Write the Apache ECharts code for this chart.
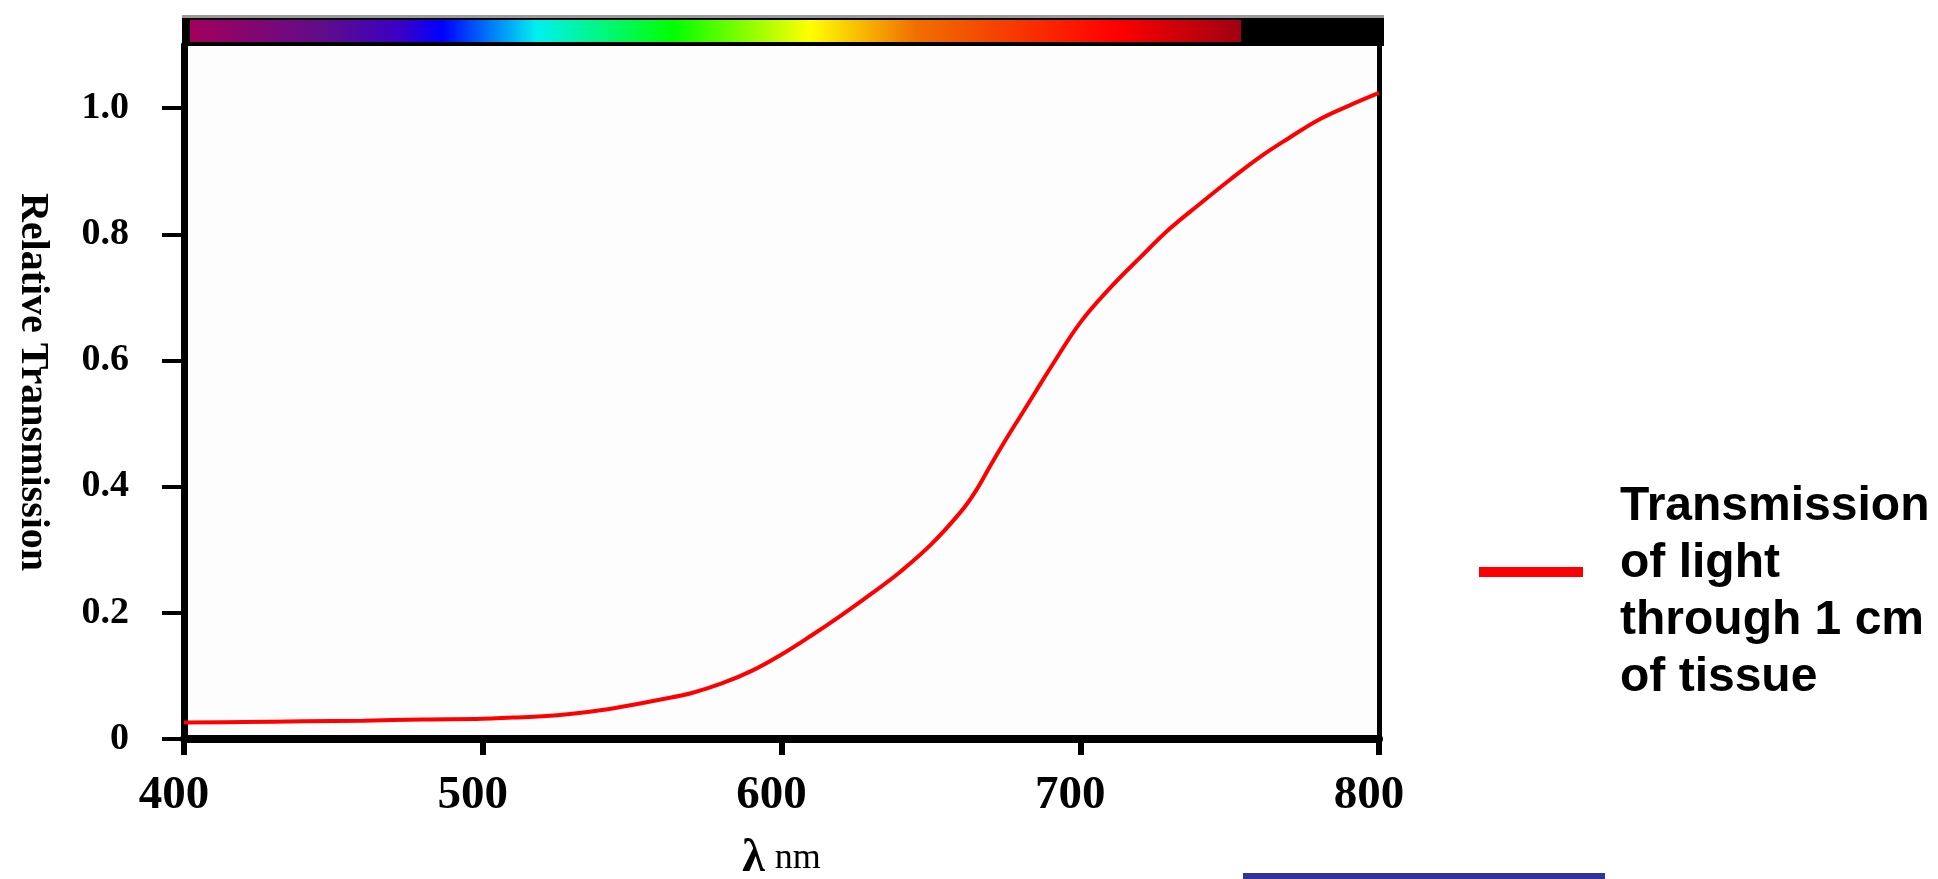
<!DOCTYPE html>
<html>
<head>
<meta charset="utf-8">
<script src="https://cdn.jsdelivr.net/npm/echarts@6/dist/echarts.min.js"></script>
<style>
  html, body { margin: 0; padding: 0; background: #fff; }
  #chart { width: 1938px; height: 879px; }
</style>
</head>
<body>
<div id="chart"></div>
<script>
// wavelength (nm) and relative transmission
const wavelengths = [400, 420, 440, 460, 480, 500, 510, 520, 530, 540, 550, 560, 570, 580, 590,
  600, 610, 620, 630, 640, 650, 660, 665, 670, 675, 680, 685, 690, 700, 710, 720, 730, 740, 750, 760, 770, 780, 790, 800];
const transmission = [0.026, 0.027, 0.028, 0.029, 0.031, 0.032, 0.034, 0.036, 0.040, 0.046, 0.054, 0.063, 0.073, 0.088, 0.108,
  0.134, 0.164, 0.196, 0.230, 0.266, 0.308, 0.360, 0.393, 0.434, 0.474, 0.512, 0.550, 0.588, 0.660, 0.715, 0.763, 0.809, 0.848, 0.886, 0.922, 0.953, 0.982, 1.004, 1.024];
const xTicks = [400, 500, 600, 700, 800];
const yTicks = [0, 0.2, 0.4, 0.6, 0.8, 1.0];
const seriesName = 'Transmission\nof light\nthrough 1 cm\nof tissue';

// spectrum strip colours (left to right)
const spectrumStops = [
  [0, '#a3005c'], [0.13, '#5e0c8c'], [0.2, '#3a00c4'], [0.24, '#0000ff'],
  [0.33, '#00f0f0'], [0.46, '#00ff00'], [0.59, '#ffff00'], [0.69, '#f07000'],
  [0.88, '#ff0000'], [1, '#a00012']
];

const chart = echarts.init(document.getElementById('chart'));
const serif = '"Liberation Serif", "Times New Roman", serif';
const sans = '"Liberation Sans", Arial, sans-serif';

const option = {
  animation: false,
  backgroundColor: '#fff',
  grid: {
    left: 184, right: 559, top: 45, bottom: 140,
    outerBoundsMode: 'none',
    show: true, backgroundColor: '#fdfdfd', borderColor: '#000', borderWidth: 2
  },
  legend: {
    left: 1479, top: 457, orient: 'vertical', padding: 0,
    icon: 'rect', itemWidth: 104, itemHeight: 10,
    formatter: name => '{s| }\n' + name.split('\n').map(l => '{t|' + l + '}').join('\n'),
    textStyle: {
      padding: [0, 0, 0, 32],
      rich: {
        t: { fontFamily: sans, fontWeight: 'bold', fontSize: 48, lineHeight: 57, color: '#000' },
        s: { fontSize: 2, lineHeight: 41 }
      }
    },
    data: [seriesName]
  },
  xAxis: {
    type: 'value', min: 400, max: 800, interval: 100,
    name: '{l|λ}{n|nm}', nameLocation: 'middle', nameGap: 97,
    nameTextStyle: {
      rich: {
        l: { fontFamily: serif, fontWeight: 'bold', fontSize: 46, color: '#000' },
        n: { fontFamily: serif, fontSize: 36, color: '#000', padding: [0, 0, 0, 10] }
      }
    },
    splitLine: { show: false },
    axisLine: { lineStyle: { color: '#000', width: 8 } },
    axisTick: { length: 16, lineStyle: { color: '#000', width: 6 }, customValues: xTicks },
    axisLabel: {
      customValues: xTicks, margin: 33, padding: [0, 20, 0, 0],
      fontFamily: serif, fontWeight: 'bold', fontSize: 47, color: '#000'
    }
  },
  yAxis: [{
    type: 'value', min: 0, max: 1.1, interval: 0.2,
    name: 'Relative Transmission', nameLocation: 'middle', nameRotate: -90, nameGap: 132,
    nameTextStyle: { fontFamily: serif, fontWeight: 'bold', fontSize: 40, color: '#000', padding: [0, 20, 0, 0] },
    splitLine: { show: false },
    axisLine: { lineStyle: { color: '#000', width: 7 } },
    axisTick: { length: 22, lineStyle: { color: '#000', width: 4 }, customValues: yTicks },
    axisLabel: {
      customValues: yTicks, margin: 55,
      fontFamily: serif, fontWeight: 'bold', fontSize: 38, color: '#000',
      formatter: v => (v === 0 ? '0' : v.toFixed(1))
    }
  }, {
    type: 'value', min: 0, max: 1.1, position: 'right',
    axisLine: { show: true, lineStyle: { color: '#000', width: 5 } },
    axisTick: { show: false }, axisLabel: { show: false }, splitLine: { show: false }
  }],
  series: [{
    name: seriesName,
    type: 'line',
    data: wavelengths.map((w, i) => [w, transmission[i]]),
    smooth: 0.4,
    showSymbol: false,
    itemStyle: { color: '#ff0000' },
    lineStyle: { color: '#ff0000', width: 4 }
  }],
  graphic: [
    // spectrum strip above the plot
    { type: 'rect', shape: { x: 182, y: 15, width: 1202, height: 31 }, style: { fill: '#000' } },
    { type: 'rect', shape: { x: 182, y: 15, width: 1202, height: 3 }, style: { fill: '#9a9a9a' } },
    {
      type: 'rect', shape: { x: 190, y: 20, width: 1051, height: 22 },
      style: {
        fill: new echarts.graphic.LinearGradient(0, 0, 1, 0,
          spectrumStops.map(s => ({ offset: s[0], color: s[1] })))
      }
    },
    // blue rule at the bottom
    { type: 'rect', shape: { x: 1243, y: 873, width: 362, height: 6 }, style: { fill: '#333399' } }
  ]
};
chart.setOption(option);
</script>
</body>
</html>
